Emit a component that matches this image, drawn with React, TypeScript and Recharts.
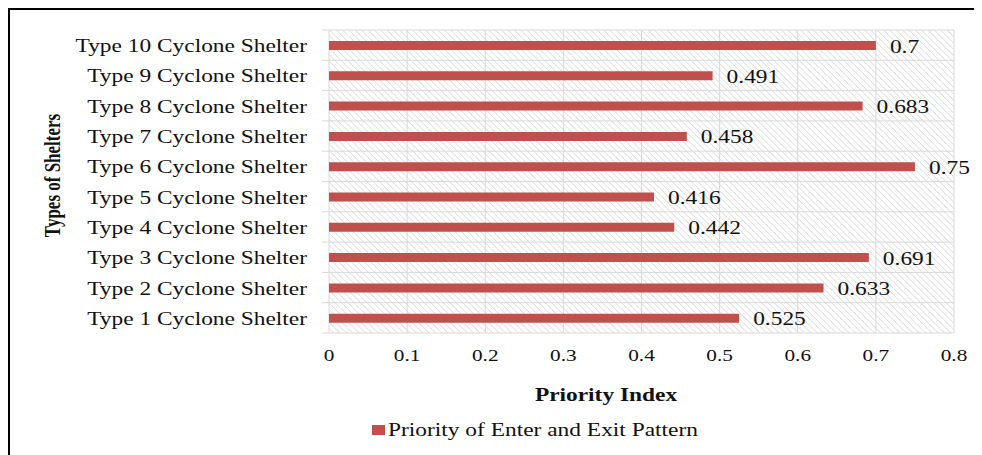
import React from 'react';
import { BarChart, Bar, XAxis, YAxis, CartesianGrid, LabelList, Legend } from 'recharts';

const categories = [
  'Type 1 Cyclone Shelter',
  'Type 2 Cyclone Shelter',
  'Type 3 Cyclone Shelter',
  'Type 4 Cyclone Shelter',
  'Type 5 Cyclone Shelter',
  'Type 6 Cyclone Shelter',
  'Type 7 Cyclone Shelter',
  'Type 8 Cyclone Shelter',
  'Type 9 Cyclone Shelter',
  'Type 10 Cyclone Shelter',
];
const priorityValues = [0.525, 0.633, 0.691, 0.442, 0.416, 0.75, 0.458, 0.683, 0.491, 0.7];
const xTicks = [0, 0.1, 0.2, 0.3, 0.4, 0.5, 0.6, 0.7, 0.8];
const seriesName = 'Priority of Enter and Exit Pattern';
const xTitle = 'Priority Index';
const yTitle = 'Types of Shelters';

const data = categories.map((name, i) => ({ name, value: priorityValues[i] }));

const FONT = '"Liberation Serif", "Times New Roman", serif';
const BAR_COLOR = '#C0504D';
const GRID_COLOR = '#d9d9d9';
const SX = 1.3;

const CatTick = (props: any) => {
  const { x, y, payload } = props;
  return (
    <text
      transform={`translate(${x},${y + 7}) scale(${SX},1)`}
      textAnchor="end"
      fontFamily={FONT}
      fontSize={18}
      fill="#111"
    >
      {payload.value}
    </text>
  );
};

const NumTick = (props: any) => {
  const { x, y, payload } = props;
  return (
    <text
      transform={`translate(${x},${y + 28}) scale(1.25,1)`}
      textAnchor="middle"
      fontFamily={FONT}
      fontSize={17}
      fill="#111"
    >
      {String(payload.value)}
    </text>
  );
};

const ValueLabel = (props: any) => {
  const { x, y, width, height, value } = props;
  return (
    <text
      transform={`translate(${x + width + 14},${y + height / 2 + 7}) scale(${SX},1)`}
      textAnchor="start"
      fontFamily={FONT}
      fontSize={18}
      fill="#111"
    >
      {String(value)}
    </text>
  );
};

const XTitle = (props: any) => {
  const { viewBox } = props;
  return (
    <text
      transform={`translate(${viewBox.x + 277},${viewBox.y + 68}) scale(${SX},1)`}
      textAnchor="middle"
      fontFamily={FONT}
      fontSize={18}
      fontWeight="bold"
      fill="#111"
    >
      {xTitle}
    </text>
  );
};

const YTitle = (props: any) => {
  const { viewBox } = props;
  return (
    <text
      transform={`translate(${viewBox.x + 51.5},${viewBox.y + viewBox.height / 2 - 6}) scale(${SX},1) rotate(-90)`}
      textAnchor="middle"
      fontFamily={FONT}
      fontSize={17}
      fontWeight="bold"
      fill="#111"
    >
      {yTitle}
    </text>
  );
};

const LegendContent = () => (
  <div style={{ display: 'flex', alignItems: 'center', height: 18, fontFamily: FONT, fontSize: 18, lineHeight: '18px', color: '#111', whiteSpace: 'nowrap' }}>
    <span style={{ display: 'inline-block', width: 13, height: 10, background: BAR_COLOR, marginRight: 3 }} />
    <span style={{ display: 'inline-block', transform: `scaleX(${SX})`, transformOrigin: 'left center' }}>{seriesName}</span>
  </div>
);

const boundaries = ({ offset }: any) =>
  Array.from({ length: categories.length + 1 }, (_, i) => offset.top + (i * offset.height) / categories.length);

export default function App() {
  return (
    <div style={{ position: 'relative', width: 974, height: 447 }}>
      <BarChart
        width={974}
        height={447}
        data={data}
        layout="vertical"
        margin={{ top: 22, right: 28, bottom: 62, left: 0 }}
        style={{ fontFamily: FONT }}
      >
        <defs>
          <pattern id="hatch" width="4.5" height="4.5" patternUnits="userSpaceOnUse" patternTransform="rotate(-45)">
            <rect width="4.5" height="4.5" fill="#ffffff" />
            <line x1="0" y1="0" x2="0" y2="4.5" stroke="#dcdcdc" strokeWidth="1.6" />
          </pattern>
        </defs>
        <CartesianGrid
          fill="url(#hatch)"
          stroke={GRID_COLOR}
          strokeWidth={1}
          horizontalCoordinatesGenerator={boundaries}
        />
        <CartesianGrid
          x={314}
          width={7}
          vertical={false}
          stroke={GRID_COLOR}
          horizontalCoordinatesGenerator={boundaries}
        />
        <XAxis
          type="number"
          domain={[0, 0.8]}
          ticks={xTicks}
          axisLine={false}
          tickLine={false}
          tickSize={0}
          tickMargin={0}
          height={60}
          tick={<NumTick />}
          interval={0}
          label={{ content: <XTitle /> }}
        />
        <YAxis
          type="category"
          dataKey="name"
          reversed
          width={321}
          axisLine={false}
          tickLine={false}
          tickSize={0}
          tickMargin={22}
          interval={0}
          tick={<CatTick />}
          label={{ content: <YTitle /> }}
        />
        <Legend
          layout="horizontal"
          verticalAlign="middle"
          align="center"
          content={<LegendContent />}
          wrapperStyle={{ position: 'absolute', left: 364, top: 413, right: 'auto', bottom: 'auto', width: 'auto', height: 18 }}
        />
        <Bar dataKey="value" name={seriesName} fill={BAR_COLOR} barSize={9} isAnimationActive={false}>
          <LabelList dataKey="value" content={<ValueLabel />} />
        </Bar>
      </BarChart>
      <div
        style={{
          position: 'absolute',
          left: 0,
          top: 0,
          right: 0,
          bottom: 0,
          borderTop: '2px solid #000',
          borderLeft: '2px solid #000',
          pointerEvents: 'none',
        }}
      />
    </div>
  );
}
